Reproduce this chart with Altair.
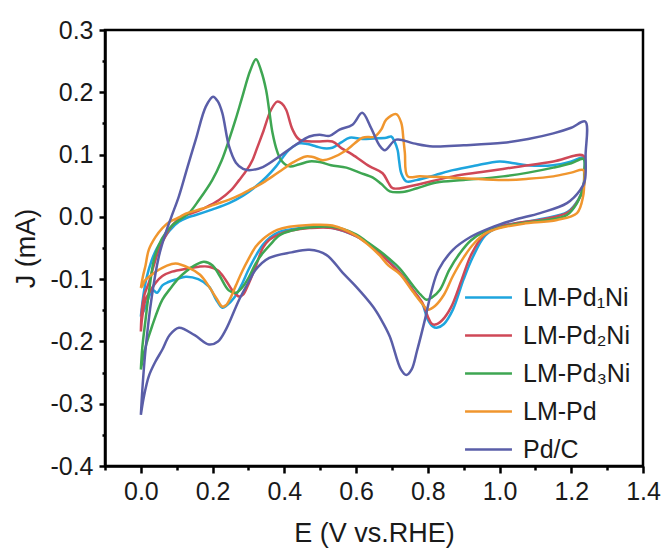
import altair as alt
import pandas as pd
import numpy as np

# Cyclic voltammograms: anodic sweep 0 -> 1.235 V, then cathodic sweep back to 0 V
names = ["LM-Pd\u2081Ni", "LM-Pd\u2082Ni", "LM-Pd\u2083Ni", "LM-Pd", "Pd/C"]
colors = ["#1ea5de", "#cf4857", "#3ea652", "#f0962e", "#5a5ea8"]

pd1ni_e = [0.0, 0.006, 0.015, 0.03, 0.045, 0.06, 0.08, 0.106, 0.13, 0.153, 0.2, 0.246, 0.285, 0.321,
           0.35, 0.377, 0.395, 0.414, 0.442, 0.465, 0.489, 0.51, 0.534, 0.56, 0.582, 0.618, 0.65, 0.684,
           0.698, 0.708, 0.716, 0.72, 0.726, 0.74, 0.768, 0.82, 0.87, 0.93, 1.0, 1.04, 1.076, 1.15, 1.2,
           1.234,
           1.237, 1.235, 1.22, 1.19, 1.12, 1.05, 1.0, 0.96, 0.926, 0.9, 0.87, 0.845, 0.825, 0.814, 0.8,
           0.785, 0.758, 0.722, 0.69, 0.666, 0.63, 0.6, 0.534, 0.479, 0.42, 0.386, 0.36, 0.34, 0.32, 0.3,
           0.28, 0.26, 0.24, 0.227, 0.21, 0.19, 0.16, 0.125, 0.1, 0.075, 0.06, 0.045, 0.035, 0.025, 0.013,
           0.004, 0.0]
pd1ni_j = [-0.16, -0.13, -0.1, -0.07, -0.05, -0.038, -0.022, -0.008, -0.001, 0.003, 0.012, 0.022, 0.034,
           0.049, 0.064, 0.081, 0.095, 0.108, 0.118, 0.117, 0.113, 0.11, 0.111, 0.12, 0.127, 0.125, 0.126,
           0.127, 0.129, 0.12, 0.107, 0.09, 0.07, 0.057, 0.059, 0.067, 0.075, 0.082, 0.089, 0.086, 0.083,
           0.083, 0.089, 0.095,
           0.07, 0.05, 0.028, 0.008, -0.003, -0.01, -0.016, -0.03, -0.064, -0.1, -0.149, -0.172, -0.178,
           -0.176, -0.165, -0.14, -0.117, -0.09, -0.07, -0.057, -0.041, -0.031, -0.018, -0.016, -0.02,
           -0.024, -0.033, -0.045, -0.063, -0.085, -0.11, -0.13, -0.142, -0.146, -0.133, -0.112, -0.1,
           -0.096, -0.1, -0.105, -0.11, -0.122, -0.118, -0.125, -0.145, -0.155, -0.16]

pd2ni_e = [0.0, 0.003, 0.01, 0.022, 0.035, 0.05, 0.065, 0.078, 0.1, 0.125, 0.143, 0.18, 0.218, 0.25,
           0.274, 0.295, 0.311, 0.325, 0.34, 0.363, 0.38, 0.393, 0.405, 0.423, 0.442, 0.489, 0.534, 0.56,
           0.59, 0.638, 0.674, 0.69, 0.702, 0.75, 0.87, 0.95, 1.057, 1.15, 1.234,
           1.237, 1.235, 1.22, 1.19, 1.12, 1.05, 1.0, 0.955, 0.92, 0.895, 0.865, 0.84, 0.82, 0.81, 0.8,
           0.785, 0.758, 0.722, 0.69, 0.666, 0.63, 0.6, 0.534, 0.47, 0.42, 0.385, 0.358, 0.34, 0.32, 0.3,
           0.285, 0.274, 0.255, 0.235, 0.215, 0.19, 0.162, 0.13, 0.087, 0.06, 0.041, 0.025, 0.013, 0.004,
           0.0]
pd2ni_j = [-0.184, -0.149, -0.125, -0.106, -0.08, -0.053, -0.035, -0.021, -0.006, 0.003, 0.006, 0.015,
           0.027, 0.042, 0.059, 0.075, 0.091, 0.112, 0.135, 0.172, 0.185, 0.182, 0.172, 0.14, 0.124, 0.121,
           0.121, 0.11, 0.1, 0.081, 0.07, 0.055, 0.046, 0.049, 0.065, 0.072, 0.081, 0.089, 0.098,
           0.07, 0.05, 0.027, 0.007, -0.004, -0.01, -0.016, -0.03, -0.062, -0.1, -0.145, -0.166, -0.173,
           -0.171, -0.16, -0.138, -0.117, -0.09, -0.072, -0.058, -0.042, -0.031, -0.018, -0.018, -0.022,
           -0.028, -0.037, -0.05, -0.08, -0.108, -0.125, -0.128, -0.118, -0.1, -0.086, -0.08, -0.08, -0.083,
           -0.088, -0.095, -0.106, -0.12, -0.133, -0.16, -0.184]

pd3ni_e = [0.0, 0.004, 0.012, 0.025, 0.036, 0.05, 0.07, 0.087, 0.11, 0.134, 0.162, 0.199, 0.225, 0.246,
           0.265, 0.283, 0.305, 0.321, 0.335, 0.349, 0.358, 0.367, 0.38, 0.391, 0.414, 0.44, 0.47, 0.498,
           0.53, 0.573, 0.61, 0.647, 0.67, 0.694, 0.73, 0.77, 0.824, 0.9, 1.01, 1.08, 1.15, 1.2, 1.234,
           1.236, 1.234, 1.216, 1.188, 1.12, 1.066, 1.0, 0.954, 0.92, 0.89, 0.86, 0.834, 0.81, 0.796, 0.78,
           0.758, 0.722, 0.694, 0.666, 0.63, 0.6, 0.534, 0.47, 0.42, 0.386, 0.36, 0.34, 0.32, 0.302, 0.283,
           0.265, 0.245, 0.22, 0.2, 0.176, 0.15, 0.125, 0.106, 0.085, 0.06, 0.031, 0.015, 0.005, 0.0]
pd3ni_j = [-0.245, -0.21, -0.17, -0.11, -0.07, -0.045, -0.025, -0.014, -0.004, 0.006, 0.027, 0.059, 0.09,
           0.124, 0.158, 0.193, 0.235, 0.253, 0.235, 0.204, 0.17, 0.135, 0.105, 0.091, 0.081, 0.084, 0.089,
           0.088, 0.083, 0.079, 0.071, 0.063, 0.053, 0.041, 0.04, 0.046, 0.055, 0.059, 0.065, 0.071, 0.079,
           0.086, 0.093,
           0.07, 0.049, 0.022, 0.003, -0.006, -0.01, -0.017, -0.025, -0.038, -0.058, -0.085, -0.117, -0.13,
           -0.133, -0.125, -0.11, -0.083, -0.068, -0.055, -0.04, -0.028, -0.016, -0.017, -0.022, -0.03,
           -0.045, -0.058, -0.075, -0.096, -0.113, -0.122, -0.118, -0.095, -0.078, -0.072, -0.078, -0.088,
           -0.098, -0.113, -0.133, -0.176, -0.205, -0.23, -0.245]

pd_e = [0.0, 0.006, 0.013, 0.022, 0.04, 0.06, 0.08, 0.106, 0.125, 0.17, 0.218, 0.26, 0.302, 0.335, 0.367,
        0.395, 0.423, 0.46, 0.48, 0.507, 0.534, 0.573, 0.618, 0.652, 0.67, 0.684, 0.712, 0.726, 0.732,
        0.736, 0.744, 0.778, 0.9, 1.01, 1.08, 1.15, 1.2, 1.234,
        1.236, 1.233, 1.216, 1.16, 1.066, 1.0, 0.96, 0.93, 0.9, 0.87, 0.845, 0.82, 0.8, 0.785, 0.758,
        0.722, 0.69, 0.666, 0.63, 0.6, 0.534, 0.47, 0.414, 0.38, 0.358, 0.34, 0.32, 0.3, 0.283, 0.265,
        0.25, 0.237, 0.227, 0.21, 0.19, 0.165, 0.134, 0.097, 0.07, 0.05, 0.03, 0.013, 0.003, 0.0]
pd_j = [-0.114, -0.095, -0.078, -0.053, -0.033, -0.018, -0.008, -0.001, 0.005, 0.013, 0.022, 0.031, 0.043,
        0.053, 0.065, 0.076, 0.087, 0.097, 0.096, 0.091, 0.095, 0.107, 0.127, 0.129, 0.14, 0.156, 0.165,
        0.151, 0.125, 0.103, 0.065, 0.065, 0.062, 0.059, 0.061, 0.065, 0.071, 0.075,
        0.055, 0.033, 0.006, -0.005, -0.011, -0.018, -0.027, -0.042, -0.065, -0.095, -0.125, -0.143,
        -0.149, -0.14, -0.12, -0.092, -0.078, -0.062, -0.043, -0.03, -0.014, -0.013, -0.016, -0.021,
        -0.028, -0.036, -0.048, -0.068, -0.087, -0.11, -0.13, -0.142, -0.144, -0.13, -0.112, -0.093,
        -0.082, -0.075, -0.079, -0.085, -0.093, -0.101, -0.112, -0.114]

pdc_e = [0.0, 0.005, 0.013, 0.03, 0.05, 0.069, 0.085, 0.106, 0.13, 0.153, 0.181, 0.201, 0.215, 0.227,
         0.246, 0.265, 0.285, 0.302, 0.34, 0.386, 0.43, 0.47, 0.498, 0.526, 0.554, 0.59, 0.617, 0.64,
         0.665, 0.68, 0.712, 0.76, 0.814, 0.9, 1.01, 1.08, 1.15, 1.2, 1.239,
         1.24, 1.238, 1.225, 1.188, 1.113, 1.04, 0.973, 0.92, 0.87, 0.83, 0.81, 0.792, 0.77, 0.755, 0.74,
         0.725, 0.694, 0.67, 0.647, 0.6, 0.563, 0.517, 0.47, 0.42, 0.358, 0.32, 0.3, 0.274, 0.237, 0.215,
         0.19, 0.15, 0.106, 0.08, 0.06, 0.04, 0.022, 0.008, 0.0]
pdc_j = [-0.318, -0.27, -0.213, -0.13, -0.064, -0.026, 0.0, 0.033, 0.08, 0.124, 0.177, 0.193, 0.185, 0.167,
         0.113, 0.087, 0.077, 0.075, 0.08, 0.097, 0.115, 0.129, 0.132, 0.13, 0.14, 0.148, 0.167, 0.145,
         0.115, 0.107, 0.124, 0.118, 0.113, 0.115, 0.119, 0.125, 0.134, 0.143, 0.153,
         0.1, 0.059, 0.043, 0.022, 0.006, -0.005, -0.018, -0.032, -0.053, -0.085, -0.12, -0.165, -0.215,
         -0.245, -0.254, -0.245, -0.192, -0.165, -0.144, -0.112, -0.09, -0.061, -0.053, -0.057, -0.066,
         -0.085, -0.105, -0.133, -0.181, -0.2, -0.205, -0.19, -0.178, -0.19, -0.213, -0.233, -0.256,
         -0.29, -0.318]

x_ticks = [round(-0.1 + 0.1 * i, 2) for i in range(16)]
y_ticks = [round(-0.4 + 0.05 * i, 2) for i in range(15)]

curves = [(pd1ni_e, pd1ni_j), (pd2ni_e, pd2ni_j), (pd3ni_e, pd3ni_j), (pd_e, pd_j), (pdc_e, pdc_j)]
frames = []
for name, (e, j) in zip(names, curves):
    frames.append(pd.DataFrame({"series": name, "E": e, "J": j, "step": np.arange(len(e))}))
df = pd.concat(frames, ignore_index=True)

FONT = "Liberation Sans, Arial, sans-serif"
INK = "#1a1a1a"

x_major = "round(datum.value * 10) % 2 == 0"
y_major = "round(datum.value * 20) % 2 == 0"

x_axis = alt.Axis(
    values=x_ticks,
    labelExpr=f"{x_major} ? format(datum.value, '.1f') : ''",
    tickSize={"condition": {"test": x_major, "value": 7}, "value": 4},
    tickWidth=2.5, tickColor="black", domainColor="black", domainWidth=2.5,
    grid=False, labelFont=FONT, labelFontSize=25, labelColor=INK, labelPadding=6,
    labelOverlap=False, labelFlush=False,
    titleFont=FONT, titleFontSize=27, titleFontWeight="normal", titleColor=INK,
    titleX=269, titleY=75, titleBaseline="alphabetic", titleAlign="center",
)
y_axis = alt.Axis(
    values=y_ticks,
    labelExpr=f"{y_major} ? (datum.value < 0 ? '-' : '') + format(abs(datum.value), '.1f') : ''",
    tickSize={"condition": {"test": y_major, "value": 6}, "value": 3},
    tickWidth=2.5, tickColor="black", domainColor="black", domainWidth=2.5,
    grid=False, labelFont=FONT, labelFontSize=25, labelColor=INK, labelPadding=6,
    labelOverlap=False, labelFlush=False,
    titleFont=FONT, titleFontSize=27, titleFontWeight="normal", titleColor=INK,
    titleAngle=270, titleX=-79, titleY=218, titleBaseline="middle", titleAlign="center",
)

legend = alt.Legend(
    title=None, orient="none", legendX=360, legendY=255, padding=0,
    symbolType="M-2.76,0H2.76", symbolSize=289, symbolStrokeWidth=2.6, symbolOffset=11,
    labelFont=FONT, labelFontSize=25, labelColor=INK, labelOffset=22, labelLimit=400,
    rowPadding=12,
)

chart = (
    alt.Chart(df)
    .mark_line(strokeWidth=2.5, interpolate="catmull-rom")
    .encode(
        x=alt.X("E:Q", title="E (V vs.RHE)",
                scale=alt.Scale(domain=[-0.1, 1.4], nice=False, zero=False), axis=x_axis),
        y=alt.Y("J:Q", title="J (mA)",
                scale=alt.Scale(domain=[-0.4, 0.3], nice=False, zero=False), axis=y_axis),
        color=alt.Color("series:N", scale=alt.Scale(domain=names, range=colors),
                        sort=names, legend=legend),
        order=alt.Order("step:Q"),
    )
    .properties(
        width=538, height=436,
        padding={"left": 105, "top": 30, "right": 24, "bottom": 88},
        autosize=alt.AutoSizeParams(type="none"),
        background="white",
    )
    .configure_view(stroke="black", strokeWidth=2.5)
)

chart.save("out.html", embed_options={"renderer": "svg", "actions": False})
